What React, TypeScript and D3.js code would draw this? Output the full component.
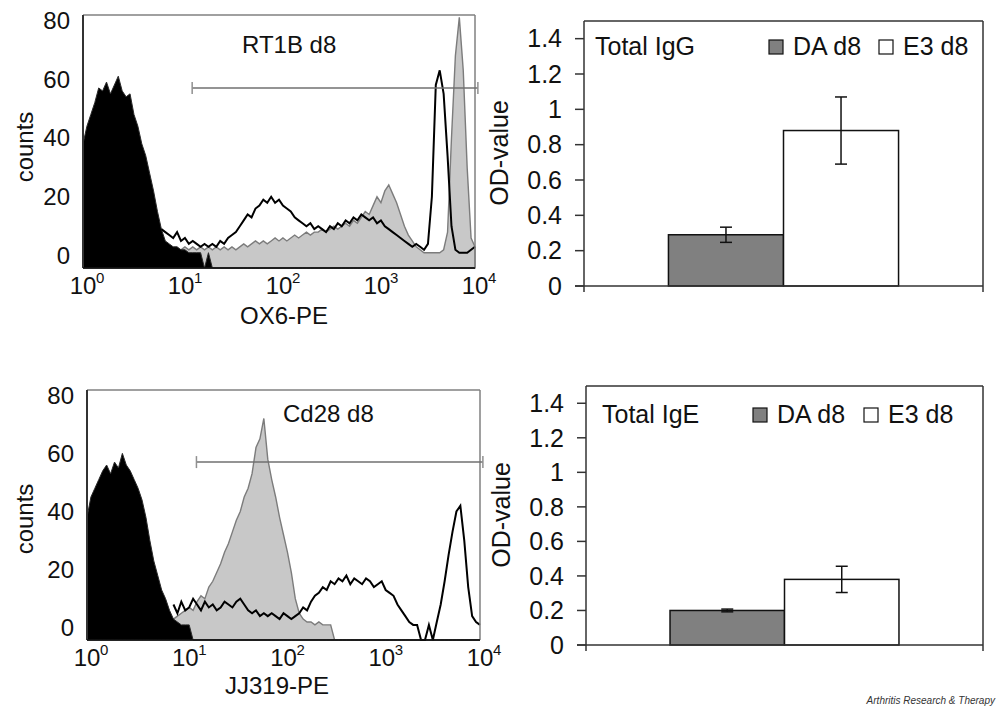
import * as d3 from "d3";

// flow histograms: one count every 0.04 log-decade, from 10^0 to 10^4 (101 channels)
const channelStep = 0.04;

// RT1B d8 / OX6-PE
const rt1bControl = [
  38, 44, 48, 52, 57, 56, 59, 55, 58, 61,
  56, 54, 55, 48, 44, 38, 34, 28, 22, 15,
  9, 5, 4, 3, 3, 2, 2, 1, 1, 1,
  1, 0, 1, 0, 0, 0, 0, 0, 0, 0,
  0, 0, 0, 0, 0, 0, 0, 0, 0, 0,
  0, 0, 0, 0, 0, 0, 0, 0, 0, 0,
  0, 0, 0, 0, 0, 0, 0, 0, 0, 0,
  0, 0, 0, 0, 0, 0, 0, 0, 0, 0,
  0, 0, 0, 0, 0, 0, 0, 0, 0, 0,
  0, 0, 0, 0, 0, 0, 0, 0, 0, 0,
  0,
];
const rt1bGray = [
  0, 0, 0, 0, 0, 0, 0, 0, 0, 0,
  0, 0, 0, 0, 0, 0, 0, 0, 0, 0,
  1, 1, 2, 2, 1, 2, 3, 2, 3, 2,
  3, 2, 3, 2, 3, 2, 3, 2, 3, 2,
  3, 4, 3, 4, 5, 4, 5, 4, 5, 6,
  5, 6, 5, 6, 7, 6, 7, 8, 7, 8,
  8, 9, 8, 9, 10, 9, 10, 11, 10, 12,
  11, 13, 15, 14, 17, 20, 18, 22, 24, 21,
  18, 14, 10, 7, 5, 3, 2, 1, 1, 1,
  1, 1, 2, 8, 40, 68, 81, 63, 30, 6,
  3,
];
const rt1bOpen = [
  null, null, null, null, null, null, null, null, null, null,
  null, null, null, null, null, null, null, null, null, null,
  9, 8, 7, 6, 8, 5, 6, 4, 5, 4,
  3, 4, 3, 4, 3, 5, 4, 6, 7, 8,
  10, 12, 14, 13, 16, 17, 19, 18, 20, 18,
  19, 17, 16, 15, 13, 12, 11, 10, 11, 9,
  10, 9, 8, 10, 9, 11, 10, 12, 11, 13,
  12, 14, 13, 12, 13, 11, 12, 10, 9, 8,
  7, 6, 5, 4, 3, 4, 3, 2, 4, 20,
  58, 63, 55, 34, 10, 2, 1, 1, 1, 2,
  3,
];

// Cd28 d8 / JJ319-PE
const cd28Control = [
  38, 45, 48, 51, 54, 56, 53, 57, 55, 60,
  56, 54, 51, 48, 44, 38, 30, 23, 18, 13,
  10, 6, 3, 2, 1, 1, 1, 0, 0, 0,
  0, 0, 0, 0, 0, 0, 0, 0, 0, 0,
  0, 0, 0, 0, 0, 0, 0, 0, 0, 0,
  0, 0, 0, 0, 0, 0, 0, 0, 0, 0,
  0, 0, 0, 0, 0, 0, 0, 0, 0, 0,
  0, 0, 0, 0, 0, 0, 0, 0, 0, 0,
  0, 0, 0, 0, 0, 0, 0, 0, 0, 0,
  0, 0, 0, 0, 0, 0, 0, 0, 0, 0,
  0,
];
const cd28Gray = [
  0, 0, 0, 0, 0, 0, 0, 0, 0, 0,
  0, 0, 0, 0, 0, 0, 0, 0, 0, 0,
  1, 2, 3, 4, 5, 6, 7, 6, 9, 11,
  10, 14, 16, 19, 22, 26, 29, 33, 37, 40,
  45, 48, 53, 62, 65, 72, 58, 51, 45, 38,
  32, 26, 19, 10, 5, 3, 2, 2, 1, 2,
  1, 1, 1, 0, 0, 0, 0, 0, 0, 0,
  0, 0, 0, 0, 0, 0, 0, 0, 0, 0,
  0, 0, 0, 0, 0, 0, 0, 0, 0, 0,
  0, 0, 0, 0, 0, 0, 0, 0, 0, 0,
  0,
];
const cd28Open = [
  null, null, null, null, null, null, null, null, null, null,
  null, null, null, null, null, null, null, null, null, null,
  null, null, 8, 5, 9, 6, 7, 10, 8, 6,
  9, 7, 8, 6, 7, 9, 8, 7, 9, 10,
  8, 6, 5, 6, 4, 5, 4, 5, 4, 3,
  5, 4, 3, 4, 5, 7, 6, 9, 11, 12,
  14, 13, 16, 15, 17, 16, 18, 15, 17, 16,
  15, 17, 16, 14, 15, 16, 13, 12, 11, 8,
  6, 4, 2, 1, 1, 0, 0, 1, 0, 2,
  8, 16, 25, 33, 40, 42, 30, 14, 4, 2,
  1,
];

const countTicks = [0, 20, 40, 60, 80];
const decadeTicks = [0, 1, 2, 3, 4];
const gateEnds = [13, 10700];
const gateCount = 57;

// OD bar charts
const groups = ["d8"];
const strains = ["DA d8", "E3 d8"];
const strainColors = ["#808080", "#ffffff"];
const igGMeans = [0.29, 0.88];
const igGErrors = [0.043, 0.19];
const igEMeans = [0.2, 0.38];
const igEErrors = [0.008, 0.076];
const odTicks = [0, 0.2, 0.4, 0.6, 0.8, 1, 1.2, 1.4];

const font = '"Liberation Sans", Arial, sans-serif';

type Frame = { left: number; right: number; top: number; bottom: number };

function Histogram({ frame, title, titleAt, xLabel, xLabelAt, countsAt, control, gray, open }: any) {
  const f: Frame = frame;
  const x = d3.scaleLog().domain([1, 1e4]).range([f.left, f.right]);
  const y = d3.scaleLinear().domain([-4.2, 81.8]).range([f.bottom, f.top]);
  const cx = (i: number) => x(Math.pow(10, i * channelStep));
  // empty channels sit on the frame bottom
  const cy = (d: number) => (d > 0 ? y(d) : f.bottom);

  const area = d3
    .area<number>()
    .x((_, i) => cx(i))
    .y0(f.bottom)
    .y1((d) => cy(d));
  const line = d3
    .line<number | null>()
    .defined((d) => d != null)
    .x((_, i) => cx(i))
    .y((d) => cy(d as number));

  const gx0 = x(gateEnds[0]);
  const gx1 = x(gateEnds[1]);
  const gy = y(gateCount);

  return (
    <g>
      <path d={area(gray) || ""} fill="#c8c8c8" stroke="#7c7c7c" strokeWidth={1.4} />
      <path d={area(control) || ""} fill="#000" stroke="#2a2a2a" strokeWidth={1} />
      <path d={line(open) || ""} fill="none" stroke="#000" strokeWidth={2} />

      {/* frame */}
      <line x1={f.left} x2={f.right} y1={f.top} y2={f.top} stroke="#808080" strokeWidth={1.5} />
      <line x1={f.right} x2={f.right} y1={f.top} y2={f.bottom} stroke="#808080" strokeWidth={1.5} />
      <line x1={f.left} x2={f.left} y1={f.top} y2={f.bottom} stroke="#333" strokeWidth={2} />
      <line x1={f.left} x2={f.right} y1={f.bottom} y2={f.bottom} stroke="#111" strokeWidth={1.5} />

      {/* marker gate */}
      <line x1={gx0} x2={gx1} y1={gy} y2={gy} stroke="#707070" strokeWidth={1.5} />
      <line x1={gx0} x2={gx0} y1={gy - 6} y2={gy + 6} stroke="#909090" strokeWidth={1.5} />
      <line x1={gx1} x2={gx1} y1={gy - 6} y2={gy + 6} stroke="#909090" strokeWidth={1.5} />

      {/* y ticks */}
      {countTicks.map((v) => (
        <text key={v} x={f.left - 13} y={y(v)} dy="0.35em" textAnchor="end" fontSize={24}>
          {v}
        </text>
      ))}
      {/* x ticks */}
      {decadeTicks.map((p) => {
        const px = x(Math.pow(10, p));
        return (
          <g key={p}>
            <text x={px} y={f.bottom + 26} textAnchor="middle" fontSize={24}>
              10
            </text>
            <text x={px + 13} y={f.bottom + 15} fontSize={15}>
              {p}
            </text>
          </g>
        );
      })}

      <text x={titleAt[0]} y={titleAt[1]} fontSize={24}>
        {title}
      </text>
      <text x={xLabelAt[0]} y={xLabelAt[1]} textAnchor="middle" fontSize={24}>
        {xLabel}
      </text>
      <text
        transform={`translate(${countsAt[0]},${countsAt[1]}) rotate(-90)`}
        textAnchor="middle"
        dy="0.35em"
        fontSize={24}
      >
        counts
      </text>
    </g>
  );
}

function OdChart({ frame, title, means, errors, legend, labelAt }: any) {
  const f: Frame = frame;
  const y = d3.scaleLinear().domain([0, 1.5]).range([f.bottom, f.top]);
  const outer = d3
    .scaleBand()
    .domain(groups)
    .range([f.left, f.right])
    .paddingInner(0)
    .paddingOuter(0.367);
  const inner = d3.scaleBand().domain(strains).range([0, outer.bandwidth()]);
  const g0 = outer(groups[0]) as number;

  return (
    <g>
      {strains.map((s, i) => {
        const bx = g0 + (inner(s) as number);
        const bw = inner.bandwidth();
        const mid = bx + bw / 2;
        const top = y(means[i] + errors[i]);
        const bot = y(means[i] - errors[i]);
        return (
          <g key={s}>
            <rect
              x={bx}
              y={y(means[i])}
              width={bw}
              height={y(0) - y(means[i])}
              fill={strainColors[i]}
              stroke="#111"
              strokeWidth={1.5}
            />
            <line x1={mid} x2={mid} y1={top} y2={bot} stroke="#111" strokeWidth={1.5} />
            <line x1={mid - 6} x2={mid + 6} y1={top} y2={top} stroke="#111" strokeWidth={1.5} />
            <line x1={mid - 6} x2={mid + 6} y1={bot} y2={bot} stroke="#111" strokeWidth={1.5} />
          </g>
        );
      })}

      {/* axes & frame */}
      <line x1={f.left} x2={f.right} y1={f.top} y2={f.top} stroke="#333" strokeWidth={1.5} />
      <line x1={f.right} x2={f.right} y1={f.top} y2={f.bottom + 6} stroke="#333" strokeWidth={1.5} />
      <line x1={f.left} x2={f.left} y1={f.top} y2={f.bottom + 6} stroke="#333" strokeWidth={1.5} />
      <line x1={f.left - 9} x2={f.right} y1={y(0)} y2={y(0)} stroke="#333" strokeWidth={1.5} />
      {odTicks.map((v) => (
        <g key={v}>
          <line x1={f.left - 9} x2={f.left} y1={y(v)} y2={y(v)} stroke="#333" strokeWidth={1.5} />
          <text x={f.left - 22} y={y(v)} dy="0.35em" textAnchor="end" fontSize={25}>
            {String(+v.toFixed(1))}
          </text>
        </g>
      ))}
      <text
        transform={`translate(${labelAt[0]},${labelAt[1]}) rotate(-90)`}
        textAnchor="middle"
        dy="0.35em"
        fontSize={25}
      >
        OD-value
      </text>

      {/* title + legend */}
      <text x={legend.titleX} y={legend.y} fontSize={25}>
        {title}
      </text>
      {strains.map((s, i) => (
        <g key={s}>
          <rect
            x={legend.boxX[i]}
            y={legend.y - 15}
            width={14}
            height={14}
            fill={strainColors[i]}
            stroke="#111"
            strokeWidth={1.2}
          />
          <text x={legend.boxX[i] + 24} y={legend.y} fontSize={25}>
            {s}
          </text>
        </g>
      ))}
    </g>
  );
}

export default function App() {
  return (
    <svg
      width={1000}
      height={715}
      style={{ position: "absolute", left: 0, top: 0, background: "#fff" }}
      fontFamily={font}
      fill="#111"
    >
      <Histogram
        frame={{ left: 83, right: 475, top: 15, bottom: 268 }}
        title="RT1B d8"
        titleAt={[242, 53]}
        xLabel="OX6-PE"
        xLabelAt={[284, 324]}
        countsAt={[25, 147]}
        control={rt1bControl}
        gray={rt1bGray}
        open={rt1bOpen}
      />
      <Histogram
        frame={{ left: 87, right: 480, top: 390, bottom: 640 }}
        title="Cd28 d8"
        titleAt={[283, 422]}
        xLabel="JJ319-PE"
        xLabelAt={[277, 694]}
        countsAt={[25, 519]}
        control={cd28Control}
        gray={cd28Gray}
        open={cd28Open}
      />
      <OdChart
        frame={{ left: 584, right: 983, top: 21, bottom: 286 }}
        title="Total IgG"
        means={igGMeans}
        errors={igGErrors}
        legend={{ titleX: 595, y: 55, boxX: [769, 879] }}
        labelAt={[499, 153]}
      />
      <OdChart
        frame={{ left: 586, right: 983, top: 386, bottom: 645 }}
        title="Total IgE"
        means={igEMeans}
        errors={igEErrors}
        legend={{ titleX: 602, y: 423, boxX: [753, 864] }}
        labelAt={[501, 515]}
      />
      <text x={995} y={704} fontSize={10} fontStyle="italic" textAnchor="end" fill="#333">
        Arthritis Research &amp; Therapy
      </text>
    </svg>
  );
}
